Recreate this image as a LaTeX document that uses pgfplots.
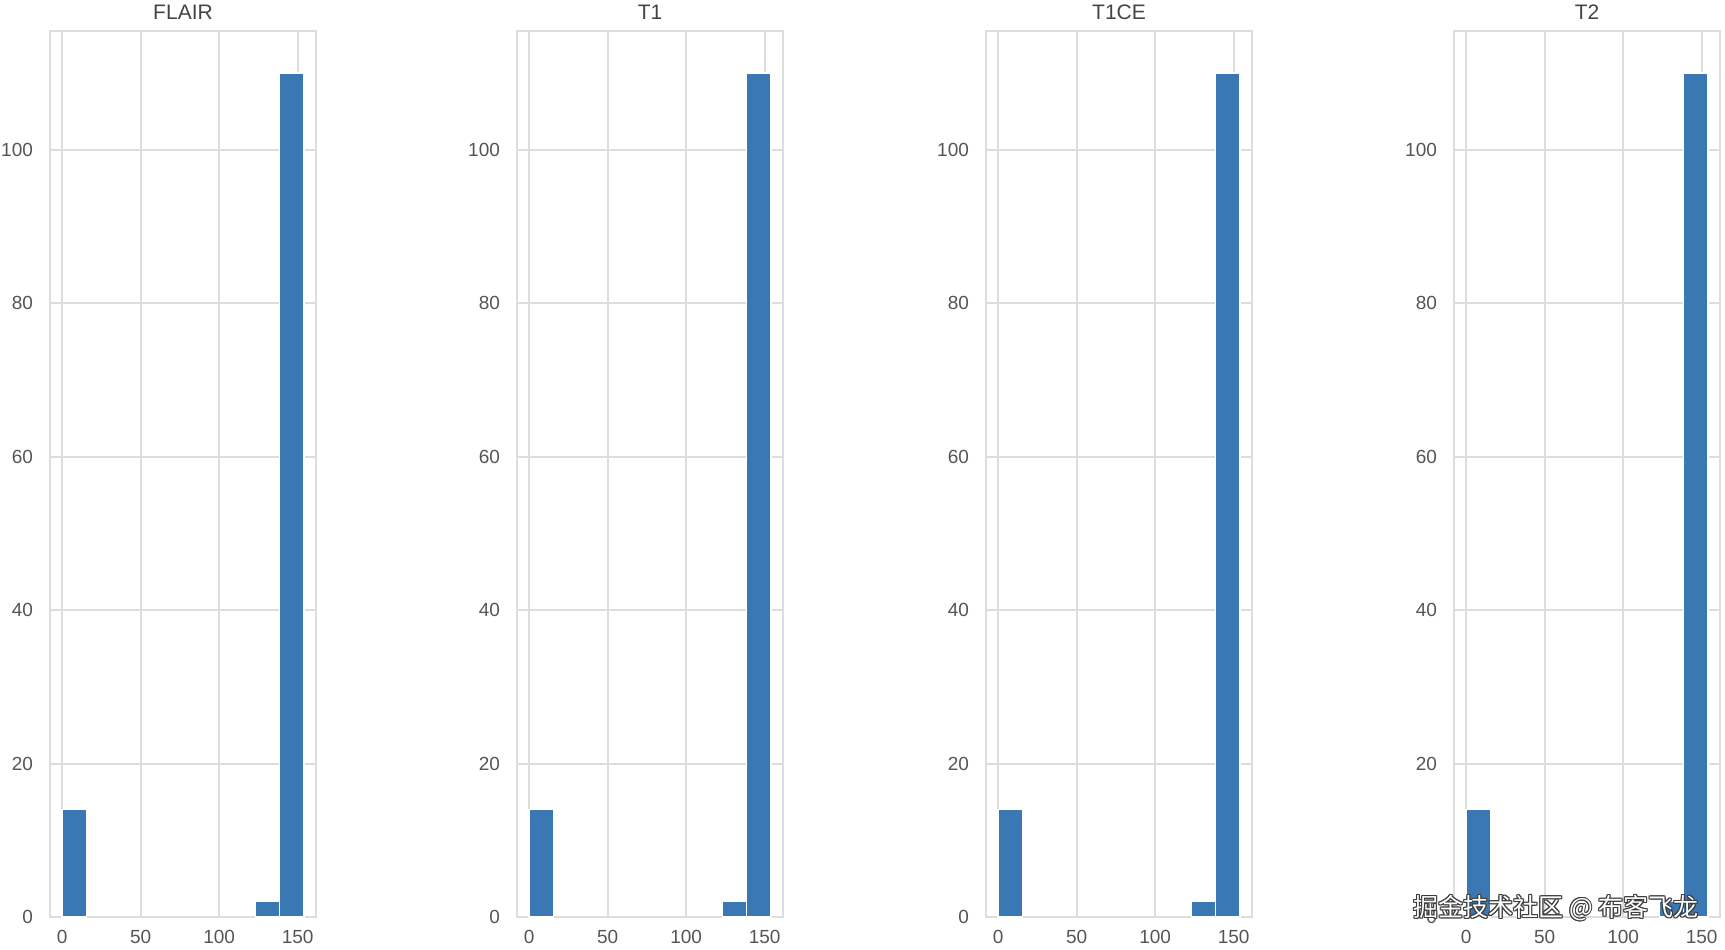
\documentclass[border=0pt]{standalone}
\usepackage{fontspec}
\setmainfont{Liberation Sans}
\newfontfamily\cjk{Noto Sans CJK SC}
\usepackage{pgfplots}
\pgfplotsset{compat=1.18}
\definecolor{Bar}{HTML}{3A78B4}
\definecolor{Grid}{HTML}{DDDDDD}
\definecolor{Tick}{HTML}{555555}
\definecolor{Title}{HTML}{444444}
\definecolor{Mark}{HTML}{3C3C3C}

\pgfplotsset{
  hpanel/.style={
    width=133pt,height=443pt,scale only axis,anchor=south west,
    xmin=-7.7,xmax=161.7,ymin=0,ymax=115.5,
    xtick={0,50,100,150},ytick={0,20,...,100},
    grid=major,grid style={draw=Grid,line width=1pt},
    axis line style={draw=Grid,line width=1pt},
    major tick length=0pt,
    /pgf/number format/assume math mode=true,
    ticklabel style={font=\fontsize{9.5}{11}\selectfont,text=Tick},
    yticklabel style={xshift=-5pt},
    xticklabel style={yshift=-3pt},
    every axis title/.style={font=\fontsize{10.5}{12}\selectfont,text=Title,
      at={(0.5,1)},anchor=base,yshift=5.5pt,inner sep=0pt},
  },
  histbar/.style={ybar interval,fill=Bar,draw=white,line width=0.7pt},
}

% bins of width 15.4 between 0 and 154; empty bins left out
\newcommand{\histo}{%
  \addplot[histbar] coordinates {(0,14)(15.4,14)};
  \addplot[histbar] coordinates {(123.2,2)(138.6,2)};
  \addplot[histbar] coordinates {(138.6,110)(154,110)};
}

\newcommand{\wm}{{\cjk\fontsize{12.5}{14}\selectfont 掘金技术社区 @ 布客飞龙}}

\begin{document}
\begin{tikzpicture}
\path[use as bounding box] (0,0) rectangle (862.5pt,474.5pt);

\begin{axis}[hpanel,at={(25pt,16pt)},title={FLAIR}]
\histo
\end{axis}
\begin{axis}[hpanel,at={(258.5pt,16pt)},title={T1}]
\histo
\end{axis}
\begin{axis}[hpanel,at={(493pt,16pt)},title={T1CE}]
\histo
\end{axis}
\begin{axis}[hpanel,at={(727pt,16pt)},title={T2}]
\histo
\end{axis}

% watermark: white text with a dark outline
\foreach \dx/\dy in {-0.5/0,0.5/0,0/-0.5,0/0.5,-0.4/-0.4,0.4/0.4,-0.4/0.4,0.4/-0.4}
  \node[text=Mark,inner sep=0pt] at ([shift={(\dx pt,\dy pt)}]778pt,20.5pt) {\wm};
\node[text=white,inner sep=0pt] at (778pt,20.5pt) {\wm};
\end{tikzpicture}
\end{document}
